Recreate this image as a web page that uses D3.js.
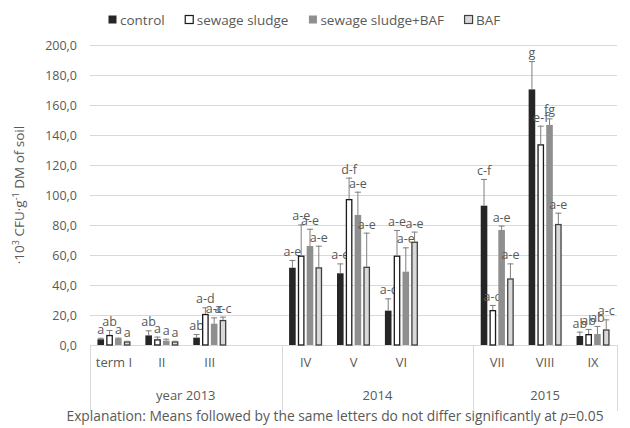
<!DOCTYPE html>
<html><head><meta charset="utf-8">
<script src="https://cdn.jsdelivr.net/npm/d3@7/dist/d3.min.js"></script>
<style>
html,body{margin:0;padding:0;background:#fff;}
svg{display:block;font-family:"Open Sans",sans-serif;}
</style></head>
<body><svg id="c" width="630" height="428"></svg>
<script>
// ---- data ----
const categories = ["term I","II","III","","IV","V","VI","","VII","VIII","IX"];
const yearLabels = ["year 2013","2014","2015"];
const yearSpans = [4,4,3];
const seriesNames = ["control","sewage sludge","sewage sludge+BAF","BAF"];
const control     = [3.8, 6.4, 4.9, null, 51.5, 47.8, 22.9, null, 92.9, 170.4, 6.0];
const controlErr  = [1.0, 3.4, 2.4, null, 5.2, 6.6, 8.2, null, 17.8, 18.9, 2.9];
const sludge      = [6.7, 3.8, 20.7, null, 59.6, 97.3, 59.6, null, 23.3, 133.8, 7.3];
const sludgeErr   = [3.3, 1.8, 4.4, null, 20.8, 14.3, 17.1, null, 3.4, 12.4, 3.4];
const sludgeBaf   = [4.4, 2.9, 14.2, null, 66.0, 86.7, 48.9, null, 76.7, 146.7, 7.3];
const sludgeBafErr= [0.5, 1.3, 4.2, null, 11.5, 15.5, 16.2, null, 2.9, 4.4, 5.4];
const baf         = [2.4, 2.4, 16.7, null, 51.8, 52.2, 68.9, null, 44.4, 80.7, 10.4];
const bafErr      = [0.4, 0.4, 2.2, null, 14.4, 22.7, 6.7, null, 10.0, 7.5, 6.7];
const controlLet  = ["a","ab","ab",null,"a-e","a-e","a-c",null,"c-f","g","ab"];
const sludgeLet   = ["ab","a","a-d",null,"a-e","d-f","a-e",null,"a-d","e-f","ab"];
const sludgeBafLet= ["a","a","a-c",null,"a-e","a-e","a-e",null,"a-e","fg","ab"];
const bafLet      = ["a","a","a-c",null,"a-e","a-e","a-e",null,"a-e","a-e","a-c"];
const yTicks = [0,20,40,60,80,100,120,140,160,180,200];
const note = "Explanation:  Means followed by the same letters do not differ significantly at ";

const series = [
  {name:seriesNames[0], v:control, e:controlErr, l:controlLet, fill:"#262626", stroke:"#1a1a1a"},
  {name:seriesNames[1], v:sludge, e:sludgeErr, l:sludgeLet, fill:"#ffffff", stroke:"#1a1a1a"},
  {name:seriesNames[2], v:sludgeBaf, e:sludgeBafErr, l:sludgeBafLet, fill:"#8f8f8f", stroke:"#8f8f8f"},
  {name:seriesNames[3], v:baf, e:bafErr, l:bafLet, fill:"#d9d9d9", stroke:"#404040"}
];

const svg = d3.select("#c");
const L=90, R=617, T=45, B=345;
const grey="#595959";

const x = d3.scaleBand().domain(d3.range(categories.length)).range([L,R]).padding(0);
const x1 = d3.scaleBand().domain(d3.range(series.length)).range([-16.5,16.5]).paddingInner(0.25);
const y = d3.scaleLinear().domain([0,200]).range([B,T]);
const fmt = v => d3.format(".1f")(v).replace(".",",");

// gridlines
svg.append("g").selectAll("line").data(yTicks).join("line")
  .attr("x1",L).attr("x2",R).attr("y1",d=>y(d)+0.5).attr("y2",d=>y(d)+0.5)
  .attr("stroke","#d9d9d9").attr("stroke-width",1);

// y axis labels
const yAxis = svg.append("g").attr("transform",`translate(${L-13},0)`)
  .call(d3.axisLeft(y).tickValues(yTicks).tickFormat(fmt).tickSize(0).tickPadding(0));
yAxis.select(".domain").remove();
yAxis.selectAll("text").attr("fill",grey).style("font-size","12.5px").style("font-family","Open Sans");

// y title
const yt = svg.append("text").attr("transform",`translate(24,${(T+B)/2}) rotate(-90)`)
  .attr("text-anchor","middle").attr("fill",grey).style("font-size","13.5px");
yt.append("tspan").text("·10");
yt.append("tspan").text("3").attr("dy",-5).style("font-size","9px");
yt.append("tspan").text(" CFU·g").attr("dy",5);
yt.append("tspan").text("-1").attr("dy",-5).style("font-size","9px");
yt.append("tspan").text(" DM of soil").attr("dy",5);

// category axis
svg.append("line").attr("x1",L).attr("x2",R).attr("y1",B+0.5).attr("y2",B+0.5).attr("stroke","#d9d9d9");
const xAxis = svg.append("g").attr("transform",`translate(0,${B})`)
  .call(d3.axisBottom(x).tickFormat(i=>categories[i]).tickSize(0).tickPadding(13));
xAxis.select(".domain").remove();
xAxis.selectAll("text").attr("fill",grey).style("font-size","13px").style("font-family","Open Sans");

// year groups
let start=0; const seps=[L];
yearLabels.forEach((yl,i)=>{
  const a = x(start), b = x(start+yearSpans[i]-1)+x.bandwidth();
  svg.append("text").attr("x",(a+b)/2).attr("y",400).attr("text-anchor","middle")
    .attr("fill",grey).style("font-size","13px").text(yl);
  seps.push(b);
  start += yearSpans[i];
});
svg.append("g").selectAll("line").data(seps).join("line")
  .attr("x1",d=>Math.round(d)+0.5).attr("x2",d=>Math.round(d)+0.5).attr("y1",B).attr("y2",411)
  .attr("stroke","#d9d9d9");

// bars
series.forEach((s,si)=>{
  const g = svg.append("g");
  const idx = d3.range(categories.length).filter(i=>s.v[i]!=null);
  const cx = i => x(i)+x.bandwidth()/2 + x1(si);
  const w = x1.bandwidth();
  const hasStroke = (si===1||si===3);
  g.selectAll("rect").data(idx).join("rect")
    .attr("x",i=>cx(i)+(hasStroke?0.6:0)).attr("width",w-(hasStroke?1.2:0))
    .attr("y",i=>y(s.v[i])+(hasStroke?0.6:0)).attr("height",i=>B-y(s.v[i])-(hasStroke?0.6:0))
    .attr("fill",s.fill).attr("stroke",hasStroke?s.stroke:"none").attr("stroke-width",hasStroke?1.3:0);
  // error bars
  const eb = svg.append("g").attr("stroke","#7f7f7f").attr("stroke-width",1);
  idx.forEach(i=>{
    const m = cx(i)+w/2, yt0=y(s.v[i]), yt1=y(s.v[i]+s.e[i]);
    eb.append("line").attr("x1",m).attr("x2",m).attr("y1",yt0).attr("y2",yt1);
    eb.append("line").attr("x1",m-3).attr("x2",m+3).attr("y1",yt1+0.5).attr("y2",yt1+0.5);
  });
  // letters
  svg.append("g").selectAll("text").data(idx).join("text")
    .attr("x",i=>cx(i)+w/2).attr("y",i=>y(s.v[i]+s.e[i])-4)
    .attr("text-anchor","middle").attr("fill",grey).style("font-size","12.5px")
    .text(i=>s.l[i]);
});

// legend
const lg = svg.append("g").attr("transform","translate(108,20)");
let lx=0;
series.forEach((s,si)=>{
  const hasStroke = (si===1||si===3);
  lg.append("rect").attr("x",lx+0.5).attr("y",-4.5).attr("width",8).attr("height",8)
    .attr("fill",s.fill).attr("stroke",hasStroke?s.stroke:"none").attr("stroke-width",hasStroke?1.2:0);
  const t = lg.append("text").attr("x",lx+12).attr("y",4.8).attr("fill",grey)
    .style("font-size","13.5px").text(s.name);
  lx += 12 + t.node().getComputedTextLength() + 20;
});

// note
const nt = svg.append("text").attr("x",335).attr("y",421).attr("text-anchor","middle")
  .attr("fill",grey).style("font-size","13.8px");
nt.append("tspan").text(note);
nt.append("tspan").text("p").style("font-style","italic");
nt.append("tspan").text("=0.05");
</script></body></html>
